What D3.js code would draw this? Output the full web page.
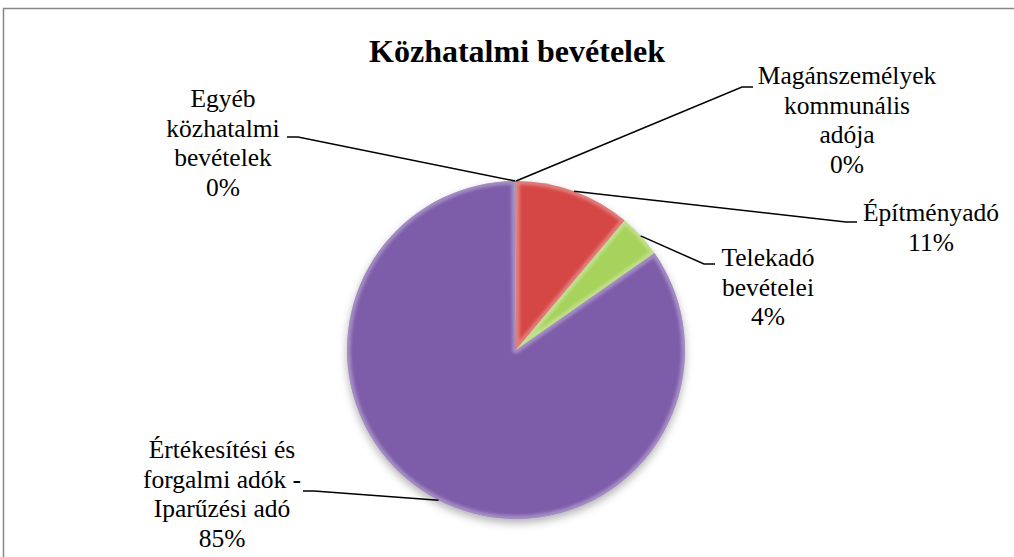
<!DOCTYPE html>
<html><head><meta charset="utf-8">
<script src="https://cdn.jsdelivr.net/npm/d3@7"></script>
<style>html,body{margin:0;padding:0;background:#fff;overflow:hidden}</style>
</head><body>
<svg id="chart" width="1014" height="557"></svg>
<script>
// ---- data ----
const categories = ["Magánszemélyek kommunális adója", "Építményadó", "Telekadó bevételei", "Értékesítési és forgalmi adók - Iparűzési adó", "Egyéb közhatalmi bevételek"];
const values = [0.02, 11.1, 4.16, 84.6, 0.12];
const labelLines = [["Magánszemélyek", "kommunális", "adója"], ["Építményadó"], ["Telekadó", "bevételei"], ["Értékesítési és", "forgalmi adók -", "Iparűzési adó"], ["Egyéb", "közhatalmi", "bevételek"]];
const title = "Közhatalmi bevételek";

// ---- layout / style ----
const FONT = '"Liberation Serif"';
const colors = ["#4F81BD", "#D3403D", "#A3D055", "#7856A6", "#2E8EA8"];
// cx: text centre, y0: first baseline, lx/ly: end of the leader's horizontal stub next to the text
const labelLayout = [
  {cx: 847, y0: 84, lx: 753, ly: 87, side: "L"},
  {cx: 931, y0: 221, lx: 857, ly: 222, side: "L"},
  {cx: 768, y0: 266, lx: 715, ly: 264, side: "L"},
  {cx: 222, y0: 458, lx: 303, ly: 491, side: "R"},
  {cx: 223, y0: 107, lx: 287, ly: 137, side: "R"}
];
const W = 1014, H = 557, cx = 516, cy = 350, R = 169, lineH = 29.7, stub = 11, labelSize = 25.5;

const svg = d3.select("#chart");
const defs = svg.append("defs");

const sh = defs.append("filter").attr("id", "shadow").attr("x", "-20%").attr("y", "-20%").attr("width", "140%").attr("height", "140%");
sh.append("feDropShadow").attr("dx", 0).attr("dy", 4).attr("stdDeviation", 4).attr("flood-color", "#000").attr("flood-opacity", 0.3);

const blur = defs.append("filter").attr("id", "blur").attr("x", "-20%").attr("y", "-20%").attr("width", "140%").attr("height", "140%");
blur.append("feGaussianBlur").attr("stdDeviation", 1.6);

const bev = defs.append("linearGradient").attr("id", "bevel").attr("gradientUnits", "userSpaceOnUse")
  .attr("x1", cx - R * 0.5).attr("y1", cy - R).attr("x2", cx + R * 0.5).attr("y2", cy + R);
bev.append("stop").attr("offset", "0%").attr("stop-color", "#fff").attr("stop-opacity", 0.3);
bev.append("stop").attr("offset", "50%").attr("stop-color", "#fff").attr("stop-opacity", 0.0);
bev.append("stop").attr("offset", "100%").attr("stop-color", "#000").attr("stop-opacity", 0.35);

const shade = defs.append("linearGradient").attr("id", "shade").attr("gradientUnits", "userSpaceOnUse")
  .attr("x1", 0).attr("y1", cy - R).attr("x2", 0).attr("y2", cy + R);
shade.append("stop").attr("offset", "0%").attr("stop-color", "#fff").attr("stop-opacity", 0.04);
shade.append("stop").attr("offset", "100%").attr("stop-color", "#000").attr("stop-opacity", 0.14);

// border
svg.append("rect").attr("x", 3.5).attr("y", 8.5).attr("width", W + 20).attr("height", H + 20)
  .attr("fill", "#fff").attr("stroke", "#878787").attr("stroke-width", 1.5);

// title
svg.append("text").attr("x", 517).attr("y", 62).attr("text-anchor", "middle")
  .style("font-family", FONT).style("font-weight", "bold").attr("font-size", 32)
  .attr("fill", "#000").text(title);

const pie = d3.pie().sort(null).value(d => d)(values);
const arc = d3.arc().innerRadius(0).outerRadius(R);

const g = svg.append("g").attr("transform", `translate(${cx},${cy})`);
const pg = g.append("g").attr("filter", "url(#shadow)");
pg.selectAll("path.slice").data(pie).join("path").attr("class", "slice")
  .attr("d", arc).attr("fill", (d, i) => colors[i]);

// bevel rims
pie.forEach((d, i) => {
  const id = "clip" + i;
  defs.append("clipPath").attr("id", id).append("path").attr("d", arc(d)).attr("transform", `translate(${cx},${cy})`);
  svg.append("g").attr("clip-path", `url(#${id})`).append("path")
    .attr("d", arc(d)).attr("transform", `translate(${cx},${cy})`)
    .attr("fill", "url(#shade)").attr("stroke", "url(#bevel)").attr("stroke-width", 7)
    .attr("stroke-linejoin", "round").attr("filter", "url(#blur)");
});

// labels + leaders
const total = d3.sum(values);
pie.forEach((d, i) => {
  const L = labelLayout[i];
  const a = (d.startAngle + d.endAngle) / 2;
  const px = cx + R * Math.sin(a), py = cy - R * Math.cos(a);
  const sx = L.side === "L" ? L.lx - stub : L.lx + stub;
  svg.append("polyline").attr("points", `${px},${py} ${sx},${L.ly} ${L.lx},${L.ly}`)
    .attr("fill", "none").attr("stroke", "#000").attr("stroke-width", 1.5);
  const lines = labelLines[i].concat([Math.round(d.data / total * 100) + "%"]);
  lines.forEach((s, k) => svg.append("text").attr("x", L.cx).attr("y", L.y0 + k * lineH)
    .attr("text-anchor", "middle").style("font-family", FONT).attr("font-size", labelSize)
    .attr("fill", "#000").text(s));
});
</script>
</body></html>
